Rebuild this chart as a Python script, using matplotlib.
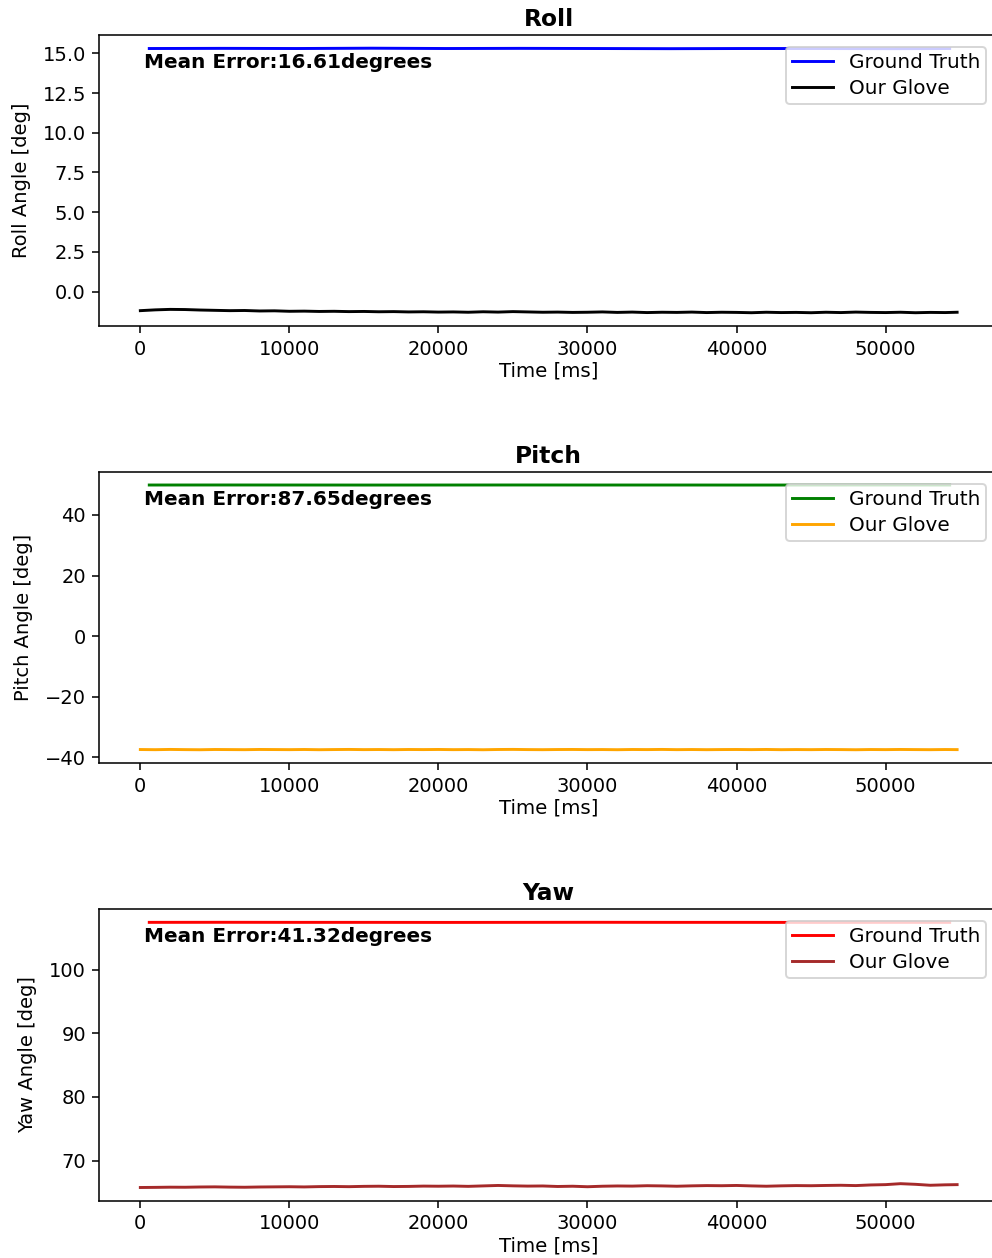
import matplotlib
matplotlib.use('Agg')
import matplotlib.pyplot as plt
from matplotlib.ticker import MultipleLocator

# sample times [ms]
glove_time = [0, 1000, 2000, 3000, 4000, 5000, 6000, 7000, 8000, 9000,
              10000, 11000, 12000, 13000, 14000, 15000, 16000, 17000, 18000, 19000,
              20000, 21000, 22000, 23000, 24000, 25000, 26000, 27000, 28000, 29000,
              30000, 31000, 32000, 33000, 34000, 35000, 36000, 37000, 38000, 39000,
              40000, 41000, 42000, 43000, 44000, 45000, 46000, 47000, 48000, 49000,
              50000, 51000, 52000, 53000, 54000, 54800]
truth_time = [600, 5500, 10500, 15500, 20500, 25500, 30500, 35500, 40500, 45500, 50500, 54300]

# Roll
roll_truth = [15.30, 15.31, 15.30, 15.32, 15.30, 15.31, 15.30, 15.29, 15.30, 15.30, 15.29, 15.30]
roll_glove = [-1.20, -1.15, -1.12, -1.13, -1.16, -1.18, -1.20, -1.19, -1.22, -1.21,
              -1.24, -1.23, -1.25, -1.24, -1.26, -1.25, -1.27, -1.26, -1.28, -1.27,
              -1.29, -1.28, -1.30, -1.27, -1.29, -1.26, -1.28, -1.30, -1.29, -1.31,
              -1.30, -1.28, -1.31, -1.29, -1.32, -1.30, -1.31, -1.29, -1.32, -1.30,
              -1.31, -1.33, -1.30, -1.32, -1.31, -1.33, -1.30, -1.32, -1.29, -1.31,
              -1.32, -1.30, -1.33, -1.31, -1.32, -1.30]

# Pitch
pitch_truth = [49.90, 49.91, 49.90, 49.89, 49.90, 49.91, 49.90, 49.90, 49.89, 49.90, 49.91, 49.90]
pitch_glove = [-37.45, -37.50, -37.42, -37.48, -37.52, -37.44, -37.47, -37.50, -37.43, -37.46,
               -37.49, -37.44, -37.51, -37.46, -37.42, -37.48, -37.45, -37.50, -37.44, -37.47,
               -37.43, -37.49, -37.46, -37.52, -37.44, -37.41, -37.47, -37.50, -37.45, -37.43,
               -37.48, -37.46, -37.51, -37.44, -37.47, -37.42, -37.49, -37.45, -37.50, -37.46,
               -37.44, -37.48, -37.43, -37.50, -37.46, -37.49, -37.44, -37.47, -37.52, -37.45,
               -37.48, -37.43, -37.47, -37.50, -37.45, -37.48]

# Yaw
yaw_truth = [107.40, 107.41, 107.40, 107.40, 107.39, 107.40, 107.41, 107.40, 107.40, 107.39, 107.40, 107.40]
yaw_glove = [65.80, 65.82, 65.85, 65.84, 65.88, 65.90, 65.86, 65.84, 65.88, 65.90,
             65.92, 65.89, 65.94, 65.96, 65.93, 65.98, 66.00, 65.95, 65.97, 66.02,
             66.00, 66.03, 65.98, 66.05, 66.12, 66.06, 66.02, 66.04, 65.96, 66.00,
             65.92, 66.00, 66.04, 66.02, 66.08, 66.05, 66.00, 66.06, 66.10, 66.08,
             66.12, 66.05, 66.00, 66.06, 66.10, 66.08, 66.12, 66.15, 66.10, 66.20,
             66.25, 66.40, 66.30, 66.15, 66.22, 66.25]

titles = ['Roll', 'Pitch', 'Yaw']
ylabels = ['Roll Angle [deg]', 'Pitch Angle [deg]', 'Yaw Angle [deg]']
mean_errors = [16.61, 87.65, 41.32]
truth_series = [roll_truth, pitch_truth, yaw_truth]
glove_series = [roll_glove, pitch_glove, yaw_glove]
truth_colors = ['blue', 'green', 'red']
glove_colors = ['black', 'orange', 'brown']
y_steps = [2.5, 20, 10]

DPI = 140
fig = plt.figure(figsize=(992 / DPI, 1258 / DPI), dpi=DPI)

# axes boxes [left, bottom, width, height]; right edge runs slightly past the crop
boxes = [[0.1003, 0.7409, 0.9057, 0.2313],
         [0.1003, 0.3935, 0.9057, 0.2315],
         [0.1003, 0.0455, 0.9057, 0.2319]]

for i in range(3):
    ax = fig.add_axes(boxes[i])
    ax.plot(truth_time, truth_series[i], color=truth_colors[i], label='Ground Truth')
    ax.plot(glove_time, glove_series[i], color=glove_colors[i], label='Our Glove')
    ax.yaxis.set_major_locator(MultipleLocator(y_steps[i]))
    ax.set_title(titles[i], fontweight='bold', fontsize=12, pad=4.5)
    ax.set_xlabel('Time [ms]', labelpad=1.5, fontsize=10.2)
    ax.set_ylabel(ylabels[i], labelpad=6)
    ax.text(0.05, 0.905, f'Mean Error:{mean_errors[i]}degrees', transform=ax.transAxes,
            fontweight='bold', va='center', fontsize=10.3)
    ax.legend(loc='upper right', fontsize=10.3, labelspacing=0.35, borderpad=0.3,
              borderaxespad=0.6)

fig.savefig('out.png', dpi=DPI)
